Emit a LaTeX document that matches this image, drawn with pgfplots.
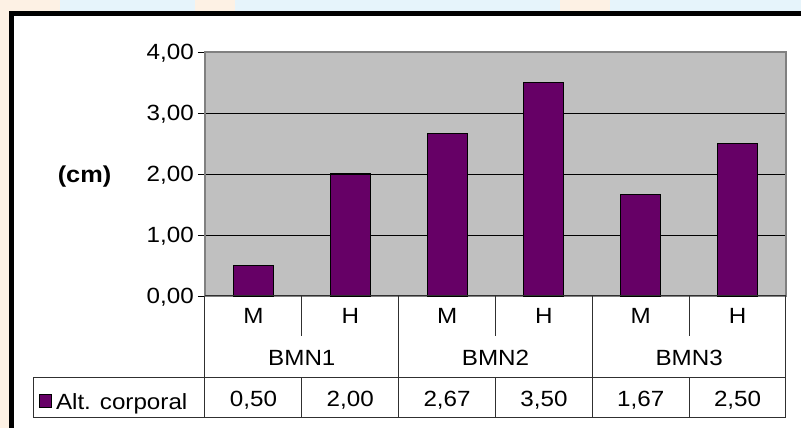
\documentclass[border=0pt]{standalone}
\usepackage{fontspec}
\setmainfont[FakeStretch=1.1]{Liberation Sans}
\usepackage{pgfplots}
\usepackage{pgfplotstable}
\usetikzlibrary{backgrounds}
\pgfplotsset{compat=1.18}
\definecolor{barcol}{HTML}{660066}
\definecolor{plotbg}{HTML}{C0C0C0}
\definecolor{pborder}{HTML}{808080}
\definecolor{tline}{HTML}{303030}
\definecolor{bgblue}{HTML}{E6F4FB}
\definecolor{bgcream}{HTML}{FDF1E4}
\newcommand\cf{\fontsize{22}{26}\selectfont}

\pgfplotstableread{
x val
0 0.50
1 2.00
2 2.67
3 3.50
4 1.67
5 2.50
}\datatable

\begin{document}
\begin{tikzpicture}
\begin{axis}[
  scale only axis, width=581pt, height=244pt,
  xmin=-0.5, xmax=5.5, ymin=0, ymax=4,
  clip=false,
  axis background/.style={fill=plotbg},
  axis line style={draw=pborder, line width=1.3pt},
  ymajorgrids, grid style={black, line width=0.9pt},
  ytick={0,1,2,3,4},
  xtick={0,1,2,3,4,5},
  xticklabels={M,H,M,H,M,H},
  tick pos=left,
  ytick align=outside,
  major tick length=7pt,
  ytick style={draw=black, line width=0.9pt},
  xtick style={draw=none},
  /pgf/number format/fixed,
  /pgf/number format/fixed zerofill,
  /pgf/number format/precision=2,
  /pgf/number format/use comma,
  /pgf/number format/assume math mode=true,
  yticklabel style={font=\cf, anchor=east, inner sep=0pt, xshift=-4pt, yshift=-1pt},
  xticklabel style={font=\cf, anchor=base, yshift=-28pt},
  ylabel={(cm)},
  every axis y label/.style={at={(axis description cs:-0.2074,0.4877)}, anchor=center, font=\bfseries\fontsize{23}{27}\selectfont},
  legend style={at={(axis description cs:-0.2857,-0.4369)}, anchor=west, draw=none, fill=none, inner sep=0pt, font=\cf, nodes={inner sep=0pt}, column sep=4pt},
]
\coordinate (O) at (rel axis cs:0,0);
\addplot[ybar, bar width=40pt, fill=barcol, draw=black, line width=1.1pt,
  legend image code/.code={\fill[barcol, draw=black, line width=0.8pt] (0pt,-5pt) rectangle (12pt,8pt);}]
  table[x=x, y=val]{\datatable};
\addlegendentry{Alt. corporal}
\addplot[forget plot, draw=none, mark=none, nodes near coords, point meta=explicit,
  nodes near coords align=center,
  every node near coord/.append style={font=\cf, anchor=center, inner sep=0pt}]
  table[x=x, y expr=-1.713, meta=val]{\datatable};
% table lines
\draw[tline, line width=1pt] (axis cs:-0.5,0) -- (axis cs:5.5,0);
\draw[tline, line width=1pt] (axis cs:-2.276,-1.328) -- (axis cs:5.5,-1.328);
\draw[tline, line width=1pt] (axis cs:-2.276,-1.984) -- (axis cs:5.5,-1.984);
\draw[tline, line width=1pt] (axis cs:-2.276,-1.328) -- (axis cs:-2.276,-1.984);
\draw[tline, line width=1pt] (axis cs:-0.5,0) -- (axis cs:-0.5,-1.984);
\draw[tline, line width=1pt] (axis cs:1.5,0) -- (axis cs:1.5,-1.984);
\draw[tline, line width=1pt] (axis cs:3.5,0) -- (axis cs:3.5,-1.984);
\draw[tline, line width=1pt] (axis cs:5.5,0) -- (axis cs:5.5,-1.984);
\draw[tline, line width=1pt] (axis cs:0.5,0) -- (axis cs:0.5,-0.656);
\draw[tline, line width=1pt] (axis cs:0.5,-1.328) -- (axis cs:0.5,-1.984);
\draw[tline, line width=1pt] (axis cs:2.5,0) -- (axis cs:2.5,-0.656);
\draw[tline, line width=1pt] (axis cs:2.5,-1.328) -- (axis cs:2.5,-1.984);
\draw[tline, line width=1pt] (axis cs:4.5,0) -- (axis cs:4.5,-0.656);
\draw[tline, line width=1pt] (axis cs:4.5,-1.328) -- (axis cs:4.5,-1.984);
\node[font=\cf, anchor=base] at (axis cs:0.5,-1.143) {BMN1};
\node[font=\cf, anchor=base] at (axis cs:2.5,-1.143) {BMN2};
\node[font=\cf, anchor=base] at (axis cs:4.5,-1.143) {BMN3};
\end{axis}
\begin{scope}[on background layer, shift={(O)}, x=1pt, y=1pt, shift={(-205,-132)}]
\fill[bgblue] (0,0) rectangle (801,428);
\fill[bgcream] (0,0) rectangle (12,428);
\fill[bgcream] (0,414) rectangle (60,428);
\fill[bgcream] (195,414) rectangle (235,428);
\fill[bgcream] (560,414) rectangle (610,428);
\fill[white] (11.6,-5) rectangle (806,414.7);
\draw[line width=4.5pt] (11.6,-5) -- (11.6,414.7) -- (806,414.7);
\end{scope}
\pgfresetboundingbox
\begin{scope}[shift={(O)}, x=1pt, y=1pt, shift={(-205,-132)}]
\useasboundingbox (0,0) rectangle (801,428);
\end{scope}
\end{tikzpicture}
\end{document}
